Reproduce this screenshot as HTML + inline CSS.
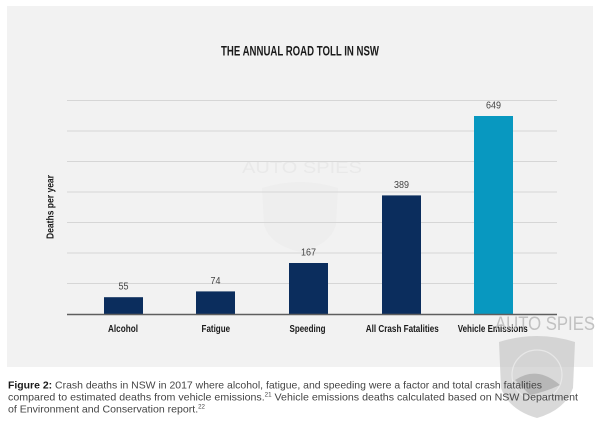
<!DOCTYPE html>
<html>
<head>
<meta charset="utf-8">
<style>
  html,body{margin:0;padding:0;background:#fff;}
  svg{display:block;}
</style>
</head>
<body>
<svg width="600" height="425" viewBox="0 0 600 425" xmlns="http://www.w3.org/2000/svg">
  <rect x="0" y="0" width="600" height="425" fill="#ffffff"/>
  <rect x="7" y="6" width="586" height="361" fill="#f2f2f2"/>

  <!-- faint center watermark -->
  <text x="302" y="173" font-family="Liberation Sans, sans-serif" font-size="17" fill="#e9e9e9" text-anchor="middle" textLength="120" lengthAdjust="spacingAndGlyphs">AUTO SPIES</text>
  <path d="M262 188 Q300 176 338 188 L336 225 Q330 245 300 252 Q270 245 264 225 Z" fill="#eeeeee"/>

  <!-- gridlines -->
  <g stroke="#d6d6d6" stroke-width="1">
    <line x1="67" y1="100.5" x2="557" y2="100.5"/>
    <line x1="67" y1="131" x2="557" y2="131"/>
    <line x1="67" y1="161.5" x2="557" y2="161.5"/>
    <line x1="67" y1="192" x2="557" y2="192"/>
    <line x1="67" y1="222.5" x2="557" y2="222.5"/>
    <line x1="67" y1="253" x2="557" y2="253"/>
    <line x1="67" y1="283.5" x2="557" y2="283.5"/>
  </g>

  <!-- bars -->
  <rect x="104" y="297.2" width="39" height="17.3" fill="#0b2d5d"/>
  <rect x="196" y="291.4" width="39" height="23.1" fill="#0b2d5d"/>
  <rect x="289" y="263" width="39" height="51.5" fill="#0b2d5d"/>
  <rect x="382" y="195.4" width="39" height="119.1" fill="#0b2d5d"/>
  <rect x="474" y="116" width="39" height="198.5" fill="#0898c0"/>

  <!-- baseline -->
  <line x1="67" y1="314.5" x2="557" y2="314.5" stroke="#5e5e5e" stroke-width="1.5"/>

  <!-- title -->
  <text x="300" y="55.5" font-family="Liberation Sans, sans-serif" font-weight="bold" font-size="13.5" fill="#1a1a1a" text-anchor="middle" textLength="158" lengthAdjust="spacingAndGlyphs">THE ANNUAL ROAD TOLL IN NSW</text>

  <!-- value labels -->
  <g font-family="Liberation Sans, sans-serif" font-size="10" fill="#444" text-anchor="middle">
    <text x="123.5" y="289.7" textLength="10" lengthAdjust="spacingAndGlyphs">55</text>
    <text x="215.5" y="283.9" textLength="10" lengthAdjust="spacingAndGlyphs">74</text>
    <text x="308.5" y="255.5" textLength="15" lengthAdjust="spacingAndGlyphs">167</text>
    <text x="401.5" y="187.9" textLength="15" lengthAdjust="spacingAndGlyphs">389</text>
    <text x="493.5" y="108.5" textLength="15" lengthAdjust="spacingAndGlyphs">649</text>
  </g>

  <!-- category labels -->
  <g font-family="Liberation Sans, sans-serif" font-weight="bold" font-size="10" fill="#1a1a1a" text-anchor="middle">
    <text x="123" y="331.8" textLength="30" lengthAdjust="spacingAndGlyphs">Alcohol</text>
    <text x="215.8" y="331.8" textLength="28.5" lengthAdjust="spacingAndGlyphs">Fatigue</text>
    <text x="307.5" y="331.8" textLength="36" lengthAdjust="spacingAndGlyphs">Speeding</text>
    <text x="402.3" y="331.8" textLength="73" lengthAdjust="spacingAndGlyphs">All Crash Fatalities</text>
    <text x="492.7" y="331.8" textLength="70" lengthAdjust="spacingAndGlyphs">Vehicle Emissions</text>
  </g>

  <!-- y-axis label -->
  <text transform="translate(53.5,207) rotate(-90)" x="0" y="0" font-family="Liberation Sans, sans-serif" font-weight="bold" font-size="10" fill="#1a1a1a" text-anchor="middle" textLength="64" lengthAdjust="spacingAndGlyphs">Deaths per year</text>

  <!-- bottom-right watermark -->
  <text x="545" y="330" font-family="Liberation Sans, sans-serif" font-size="19" fill="#b9b9b9" fill-opacity="0.85" text-anchor="middle" textLength="100" lengthAdjust="spacingAndGlyphs">AUTO SPIES</text>
  <path d="M499 342 Q537 330 575 342 L573 388 Q565 410 537 418 Q509 410 501 388 Z" fill="#c0c0c0" fill-opacity="0.6"/>
  <circle cx="537" cy="375" r="25" fill="none" stroke="#f0f0f0" stroke-opacity="0.7" stroke-width="1.2"/>
  <path d="M515 380 Q537 365 560 385 Q545 392 530 395 Z" fill="#a0a0a0" fill-opacity="0.6"/>

  <!-- caption -->
  <g font-family="Liberation Sans, sans-serif" font-size="10.3" fill="#444">
    <text x="8" y="388.5" textLength="534" lengthAdjust="spacingAndGlyphs"><tspan font-weight="bold" fill="#1a1a1a">Figure 2:</tspan> Crash deaths in NSW in 2017 where alcohol, fatigue, and speeding were a factor and total crash fatalities</text>
    <text x="8" y="400.5" textLength="570" lengthAdjust="spacingAndGlyphs">compared to estimated deaths from vehicle emissions.<tspan font-size="6" dy="-4">21</tspan><tspan dy="4"> Vehicle emissions deaths calculated based on NSW Department</tspan></text>
    <text x="8" y="412.5" textLength="197" lengthAdjust="spacingAndGlyphs">of Environment and Conservation report.<tspan font-size="6" dy="-4">22</tspan></text>
  </g>
</svg>
</body>
</html>
